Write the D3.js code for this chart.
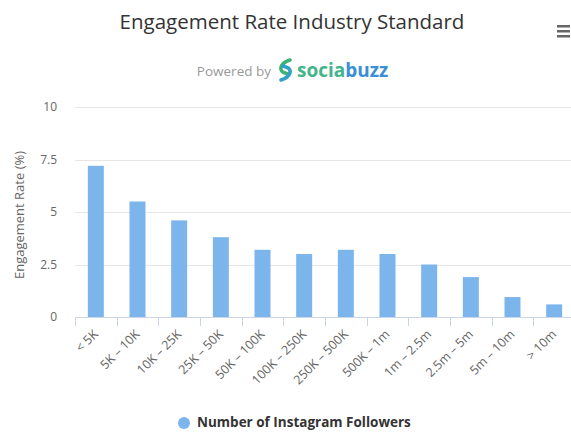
<!DOCTYPE html>
<html>
<head>
<meta charset="utf-8">
<script src="https://cdn.jsdelivr.net/npm/d3@7"></script>
<style>
  body { margin: 0; background: #fff; }
  text { font-family: "Open Sans", "DejaVu Sans", sans-serif; }
</style>
</head>
<body>
<script>
var categories = ["< 5K", "5K - 10K", "10K - 25K", "25K - 50K", "50K - 100K", "100K - 250K",
  "250K - 500K", "500K - 1m", "1m - 2.5m", "2.5m - 5m", "5m - 10m", "> 10m"];
var rates = [7.2, 5.5, 4.6, 3.8, 3.2, 3.0, 3.2, 3.0, 2.5, 1.9, 0.95, 0.6];
var yTicks = [0, 2.5, 5, 7.5, 10];
var yTickLabels = ["0", "2.5", "5", "7.5", "10"];

var w = 571, h = 432;
var plotLeft = 75, plotRight = 575, plotTop = 107, plotBottom = 317;

var svg = d3.select("body").append("svg")
  .attr("width", w)
  .attr("height", h);

var x = d3.scaleBand()
  .domain(categories)
  .range([plotLeft, plotRight])
  .padding(0);

var y = d3.scaleLinear()
  .domain([0, 10])
  .range([plotBottom, plotTop]);

// gridlines
svg.append("g")
  .selectAll("line")
  .data(yTicks)
  .enter()
    .append("line")
    .attr("x1", plotLeft)
    .attr("x2", plotRight)
    .attr("y1", d => Math.round(y(d)) + 0.5)
    .attr("y2", d => Math.round(y(d)) + 0.5)
    .attr("stroke", "#e6e6e6");

// y labels
svg.append("g")
  .selectAll("text")
  .data(yTicks)
  .enter()
    .append("text")
    .attr("x", 57)
    .attr("y", d => y(d) + 4)
    .attr("text-anchor", "end")
    .attr("font-size", 12)
    .attr("fill", "#666")
    .text((d, i) => yTickLabels[i]);

// y title
svg.append("text")
  .attr("transform", "translate(24," + 215 + ") rotate(-90)")
  .attr("text-anchor", "middle")
  .attr("font-size", 13)
  .attr("fill", "#666")
  .text("Engagement Rate (%)");

// bars
var barW = 16;
svg.append("g")
  .selectAll("rect")
  .data(rates)
  .enter()
    .append("rect")
    .attr("x", (d, i) => x(categories[i]) + (x.bandwidth() - barW) / 2)
    .attr("y", d => y(d))
    .attr("width", barW)
    .attr("height", d => y(0) - y(d))
    .attr("fill", "#7cb5ec");

// x axis
var xAxis = d3.axisBottom(x).tickSize(0).tickFormat(d => d);
var gx = svg.append("g")
  .attr("transform", "translate(0," + plotBottom + ")")
  .call(xAxis);
gx.select(".domain").attr("stroke", "#ccd6eb").attr("d", "M" + plotLeft + ",0.5H" + plotRight);
gx.selectAll(".tick text")
  .attr("font-size", 12.5)
  .attr("fill", "#666")
  .attr("text-anchor", "end")
  .attr("dy", null)
  .attr("y", 0)
  .attr("transform", "translate(3,18) rotate(-45)")
  .text(d => d.replace(" - ", " \u2013 "));

// tick marks at category boundaries
svg.append("g")
  .selectAll("line")
  .data(categories)
  .enter()
    .append("line")
    .attr("x1", d => Math.round(x(d)) + 0.5)
    .attr("x2", d => Math.round(x(d)) + 0.5)
    .attr("y1", plotBottom)
    .attr("y2", plotBottom + 9)
    .attr("stroke", "#ccd6eb");

// title
svg.append("text")
  .attr("x", 292)
  .attr("y", 29)
  .attr("text-anchor", "middle")
  .attr("font-size", 20.5)
  .attr("fill", "#333")
  .text("Engagement Rate Industry Standard");

// subtitle: Powered by + logo
var sub = svg.append("g");
sub.append("text")
  .attr("x", 271)
  .attr("y", 76)
  .attr("text-anchor", "end")
  .attr("font-size", 13.5)
  .attr("fill", "#999")
  .text("Powered by");
var logo = sub.append("g").attr("transform", "translate(285,70)");
logo.append("path")
  .attr("d", "M5,-10 C-5,-7 -7,1 0,3 L3,4")
  .attr("fill", "none")
  .attr("stroke", "#3cb371")
  .attr("stroke-width", 3.6)
  .attr("stroke-linecap", "round");
logo.append("path")
  .attr("d", "M-4,10 C6,7 8,-1 1,-3 L-2,-4")
  .attr("fill", "none")
  .attr("stroke", "#2fa0c8")
  .attr("stroke-width", 3.6)
  .attr("stroke-linecap", "round");
var brand = sub.append("text")
  .attr("x", 297)
  .attr("y", 77)
  .attr("font-size", 19)
  .attr("font-weight", "bold");
brand.append("tspan").attr("fill", "#43b58c").text("socia");
brand.append("tspan").attr("fill", "#3a8fd6").text("buzz");

// menu icon
svg.append("g")
  .selectAll("rect")
  .data([0, 1, 2])
  .enter()
    .append("rect")
    .attr("x", 557)
    .attr("y", d => 25 + d * 5)
    .attr("width", 13)
    .attr("height", 2.5)
    .attr("fill", "#666");

// legend
svg.append("circle")
  .attr("cx", 184)
  .attr("cy", 423)
  .attr("r", 6)
  .attr("fill", "#7cb5ec");
svg.append("text")
  .attr("x", 197)
  .attr("y", 427)
  .attr("font-size", 13.5)
  .attr("font-weight", "bold")
  .attr("fill", "#333")
  .text("Number of Instagram Followers");
</script>
</body>
</html>
